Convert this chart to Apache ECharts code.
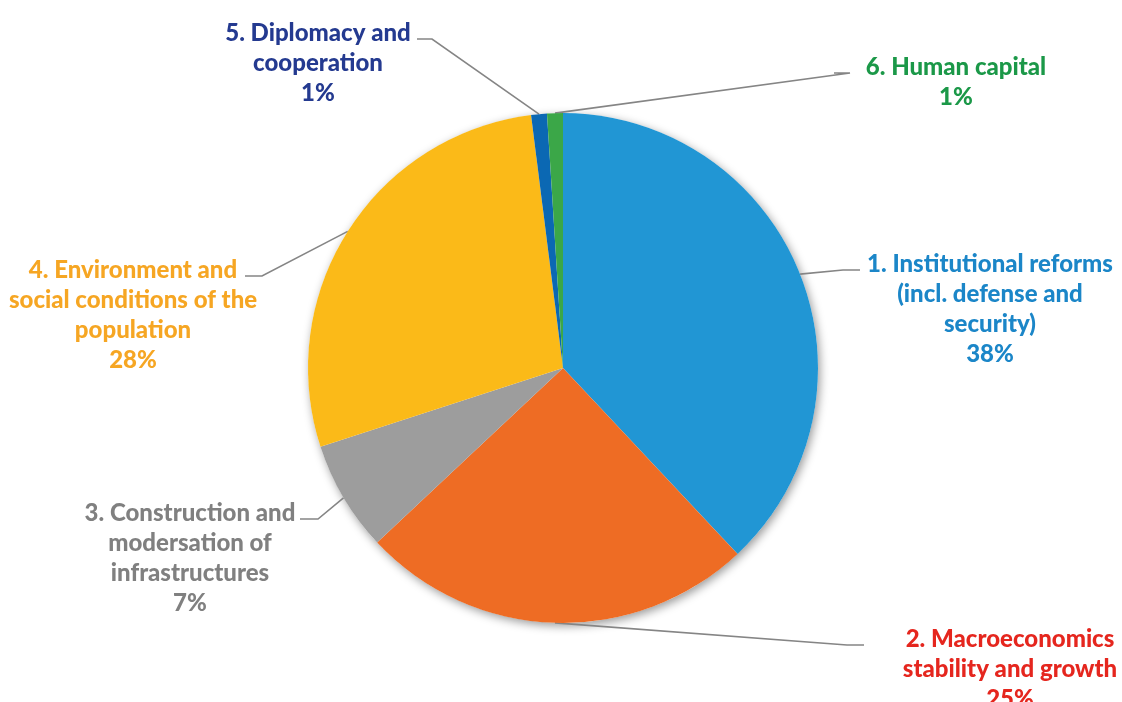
<!DOCTYPE html>
<html>
<head>
<meta charset="utf-8">
<script src="https://cdn.jsdelivr.net/npm/echarts@6/dist/echarts.min.js"></script>
<style>
  html, body { margin: 0; padding: 0; background: #ffffff; }
  #chart { width: 1122px; height: 702px; }
</style>
</head>
<body>
<div id="chart"></div>
<script>
// Budget split by priority area (percent of total)
const categories = [
  '1. Institutional reforms\n(incl. defense and\nsecurity)',
  '2. Macroeconomics\nstability and growth',
  '3. Construction and\nmodersation of\ninfrastructures',
  '4. Environment and\nsocial conditions of the\npopulation',
  '5. Diplomacy and\ncooperation',
  '6. Human capital'
];
const shares = [38, 25, 7, 28, 1, 1];

const sliceColors = ['#2196D4', '#EE6C24', '#9D9D9D', '#FBBA18', '#0B68B3', '#3BA748'];
const textColors  = ['#1B86C8', '#E5261E', '#808080', '#F6A623', '#243A90', '#1B9848'];

// Label placement: centre x of the text block, centre y of its first line,
// and the leader line's elbow / end x (the leader runs level with the first line).
const labelSpots = [
  { x: 990, y: 264, elbowX: 843, endX: 860 },
  { x: 1010, y: 639, elbowX: 847, endX: 864 },
  { x: 190, y: 513, elbowX: 318, endX: 300 },
  { x: 133, y: 270, elbowX: 262, endX: 245 },
  { x: 318, y: 33, elbowX: 432, endX: 417 },
  { x: 956, y: 67, elbowX: 850, endX: 834 }
];

const FONT = 'Lato, "Open Sans", sans-serif';
const LINE_H = 30;
const total = shares.reduce((a, b) => a + b, 0);

const chart = echarts.init(document.getElementById('chart'), null, { renderer: 'canvas' });

chart.setOption({
  animation: false,
  backgroundColor: '#ffffff',
  series: [
    {
      // soft drop shadow under the whole disc
      type: 'pie',
      silent: true,
      z: 1,
      center: [563, 368],
      radius: 255,
      label: { show: false },
      labelLine: { show: false },
      itemStyle: {
        color: '#ffffff',
        shadowBlur: 10,
        shadowColor: 'rgba(0,0,0,0.4)',
        shadowOffsetX: 2,
        shadowOffsetY: 3
      },
      data: [{ value: total, name: 'all' }]
    },
    {
      type: 'pie',
      z: 2,
      center: [563, 368],
      radius: 255,
      startAngle: 90,
      clockwise: true,
      avoidLabelOverlap: false,
      silent: true,
      itemStyle: { borderWidth: 0 },
      data: categories.map((name, i) => ({
        name: name,
        value: shares[i],
        itemStyle: { color: sliceColors[i] },
        label: { color: textColors[i] }
      })),
      label: {
        show: true,
        position: 'outside',
        fontFamily: FONT,
        fontWeight: 900,
        fontSize: 24,
        lineHeight: LINE_H,
        align: 'center',
        formatter: p => p.name + '\n' + Math.round(p.percent) + '%'
      },
      labelLine: {
        show: true,
        length: 20,
        length2: 20,
        lineStyle: { color: '#858585', width: 1.6 }
      },
      labelLayout: function (params) {
        const spot = labelSpots[params.dataIndex];
        const lineY = spot.y + 6;
        const anchor = params.labelLinePoints ? params.labelLinePoints[0] : null;
        const out = {
          x: spot.x,
          y: spot.y - LINE_H / 2,
          align: 'center',
          verticalAlign: 'top'
        };
        if (anchor) {
          out.labelLinePoints = [
            [anchor[0], anchor[1]],
            [spot.elbowX, lineY],
            [spot.endX, lineY]
          ];
        }
        return out;
      }
    }
  ]
});
</script>
</body>
</html>
